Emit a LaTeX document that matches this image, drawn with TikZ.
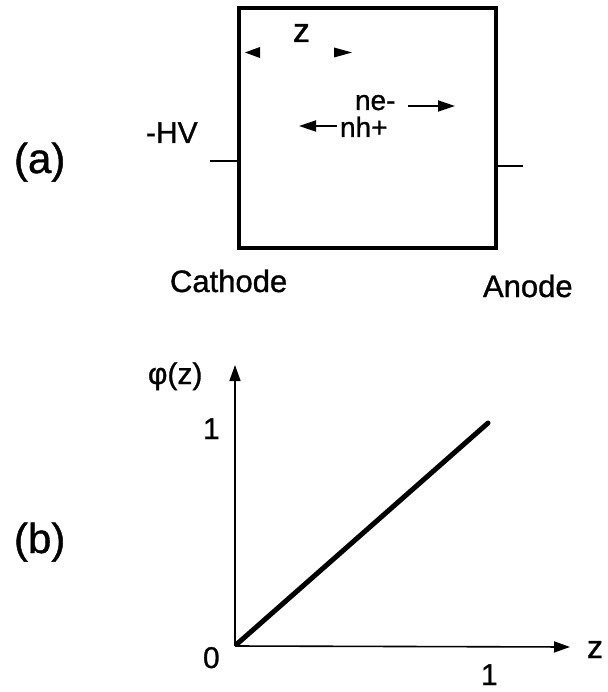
\documentclass[tikz,border=0pt]{standalone}
\usepackage{fontspec}
\setmainfont{Liberation Sans}[FakeBold=1]
\usetikzlibrary{arrows.meta}
\begin{document}
\begin{tikzpicture}[x=1pt,y=-1pt,
  lbl/.style={anchor=base west,inner sep=0pt,outer sep=0pt,text depth=0pt},
  big/.style={lbl,font=\fontsize{42}{48}\selectfont},
  mid/.style={lbl,font=\fontsize{31}{36}\selectfont},
  sml/.style={lbl,font=\fontsize{28}{32}\selectfont},
  tip/.style={-{Triangle[length=17pt,width=11pt]},line width=1.8pt},
  axis/.style={-{Triangle[length=16pt,width=11pt]},line width=1.6pt},
  lead/.style={line width=2pt}]
\useasboundingbox (0,0) rectangle (607,692);
% (a)
\node[big] (la) at (14,173) {(a)};
\node[mid,font=\fontsize{30}{36}\selectfont] (hv) at (146,143) {-HV};
\draw[line width=4pt] (239,8) rectangle (496,248);
\coordinate (boxL) at (239,161);
\coordinate (boxR) at (496,166);
\coordinate (leadL) at (210,161);
\coordinate (leadR) at (523,166);
\draw[lead] (leadL) -- (boxL);
\draw[lead] (boxR) -- (leadR);
\node[lbl,font=\fontsize{34}{38}\selectfont] (zt) at (293,42) {z};
\fill (245,52.5) -- (260,47) -- (260,58) -- cycle;
\fill (352,52.5) -- (334,47.5) -- (334,57.5) -- cycle;
\node[sml] (ne) at (355,110) {ne-};
\node[sml] (nh) at (340,137) {nh+};
\coordinate (neA) at (408,106);
\coordinate (neB) at (455,106);
\coordinate (nhA) at (337,126);
\coordinate (nhB) at (299,126);
\draw[tip] (neA) -- (neB);
\draw[tip] (nhA) -- (nhB);
\node[mid] (cath) at (170,292) {Cathode};
\node[mid] (anode) at (483,297) {Anode};
% (b)
\node[big] (lb) at (14,553) {(b)};
\coordinate (O) at (235,646);
\coordinate (ytop) at (235,365);
\coordinate (xend) at (570,647);
\coordinate (P) at (488,423);
\draw[axis] (O) -- (ytop);
\draw[axis] (O) -- (xend);
\draw[line width=5pt,line cap=round] (237,644) -- (P);
\node[mid,font=\fontsize{30}{36}\selectfont] (phi) at (148,384) {φ(z)};
\node[mid,font=\fontsize{30}{36}\selectfont] (y1) at (203,439) {1};
\node[mid,font=\fontsize{30}{36}\selectfont] (zero) at (203,668) {0};
\node[mid,font=\fontsize{30}{36}\selectfont] (x1) at (481,685) {1};
\node[mid,font=\fontsize{32}{36}\selectfont] (zr) at (587,658) {z};
\end{tikzpicture}
\end{document}
